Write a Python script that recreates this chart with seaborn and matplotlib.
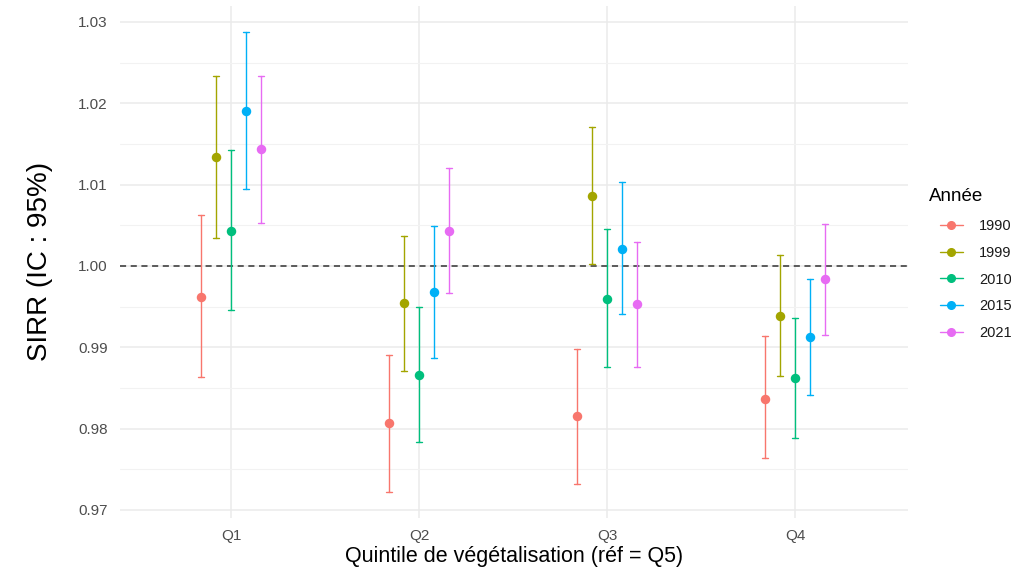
import numpy as np
import pandas as pd
import seaborn as sns
import matplotlib
matplotlib.use("Agg")
import matplotlib.pyplot as plt
from matplotlib.lines import Line2D

# Rate-ratio estimates with 95% confidence limits, by vegetation quintile and year
quintiles = ["Q1", "Q2", "Q3", "Q4"]
years = ["1990", "1999", "2010", "2015", "2021"]

sirr = {
    "1990": [0.9962, 0.9807, 0.9816, 0.9837],
    "1999": [1.0134, 0.9954, 1.0086, 0.9939],
    "2010": [1.0043, 0.9866, 0.9960, 0.9862],
    "2015": [1.0191, 0.9968, 1.0021, 0.9913],
    "2021": [1.0144, 1.0043, 0.9953, 0.9984],
}
ci_low = {
    "1990": [0.9864, 0.9722, 0.9732, 0.9764],
    "1999": [1.0035, 0.9871, 1.0003, 0.9865],
    "2010": [0.9946, 0.9784, 0.9876, 0.9789],
    "2015": [1.0095, 0.9887, 0.9941, 0.9841],
    "2021": [1.0053, 0.9967, 0.9876, 0.9915],
}
ci_high = {
    "1990": [1.0063, 0.9890, 0.9898, 0.9914],
    "1999": [1.0234, 1.0037, 1.0171, 1.0014],
    "2010": [1.0142, 0.9949, 1.0045, 0.9936],
    "2015": [1.0288, 1.0049, 1.0103, 0.9984],
    "2021": [1.0234, 1.0120, 1.0029, 1.0052],
}

palette = ["#F8766D", "#A3A500", "#00BF7D", "#00B0F6", "#E76BF3"]

# Long table: each (quintile, year) holds its lower limit, estimate and upper limit;
# the median recovers the estimate and the min/max span gives the interval.
rows = []
for y in years:
    for i, q in enumerate(quintiles):
        for v in (ci_low[y][i], sirr[y][i], ci_high[y][i]):
            rows.append({"Quintile": q, "Année": y, "SIRR": v})
df = pd.DataFrame(rows)

sns.set_theme(style="whitegrid")
plt.rcParams["font.family"] = ["Liberation Sans", "DejaVu Sans"]

fig = plt.figure(figsize=(10.12, 5.67), dpi=100)
ax = fig.add_axes([0.1186, 0.0862, 0.8972 - 0.1186, 0.9899 - 0.0862])

ax.axhline(1.0, color="#333333", linestyle=(0, (4, 3)), linewidth=1.1, zorder=1)

sns.pointplot(
    data=df, x="Quintile", y="SIRR", hue="Année",
    order=quintiles, hue_order=years, palette=palette,
    estimator=np.median, errorbar=lambda v: (v.min(), v.max()),
    dodge=0.32, linestyle="none", markers="o", markersize=4.8,
    capsize=0.03, err_kws={"linewidth": 1.0}, legend=False, ax=ax,
)

ax.set_xlim(0.41 - 1, 4.6 - 1)
ax.set_ylim(0.969, 1.032)
ax.set_yticks([0.97, 0.98, 0.99, 1.00, 1.01, 1.02, 1.03])
ax.set_yticks([0.975, 0.985, 0.995, 1.005, 1.015, 1.025], minor=True)
ax.yaxis.set_major_formatter(matplotlib.ticker.FormatStrFormatter("%.2f"))

for s in ax.spines.values():
    s.set_visible(False)
ax.set_facecolor("white")
ax.grid(which="major", color="#EBEBEB", linewidth=1.1)
ax.grid(which="minor", axis="y", color="#F2F2F2", linewidth=0.8)
ax.set_axisbelow(True)
ax.tick_params(axis="both", which="both", length=0, labelsize=11, labelcolor="#4D4D4D")
ax.tick_params(axis="y", pad=9)
ax.tick_params(axis="x", pad=8)

ax.set_xlabel("Quintile de végétalisation (réf = Q5)", fontsize=15.5, color="black", labelpad=2)
ax.set_ylabel("SIRR (IC : 95%)", fontsize=20, color="black", labelpad=18)

# Legend keys: line through a point, one per year
handles = [
    Line2D([0], [0], color=c, marker="o", markersize=5.5, linewidth=1.0)
    for c in palette
]
ax.legend(
    handles, years, loc="center left", bbox_to_anchor=(1.0406, 0.4657),
    frameon=False, fontsize=10.5, labelcolor="#1A1A1A",
    handlelength=1.55, handletextpad=1.15, labelspacing=0.88,
    borderpad=0, borderaxespad=0,
)
fig.text(929 / 1012, 1 - 197 / 567, "Année", ha="left", va="center",
         fontsize=13.5, color="black")

fig.savefig("out.png", dpi=100)
